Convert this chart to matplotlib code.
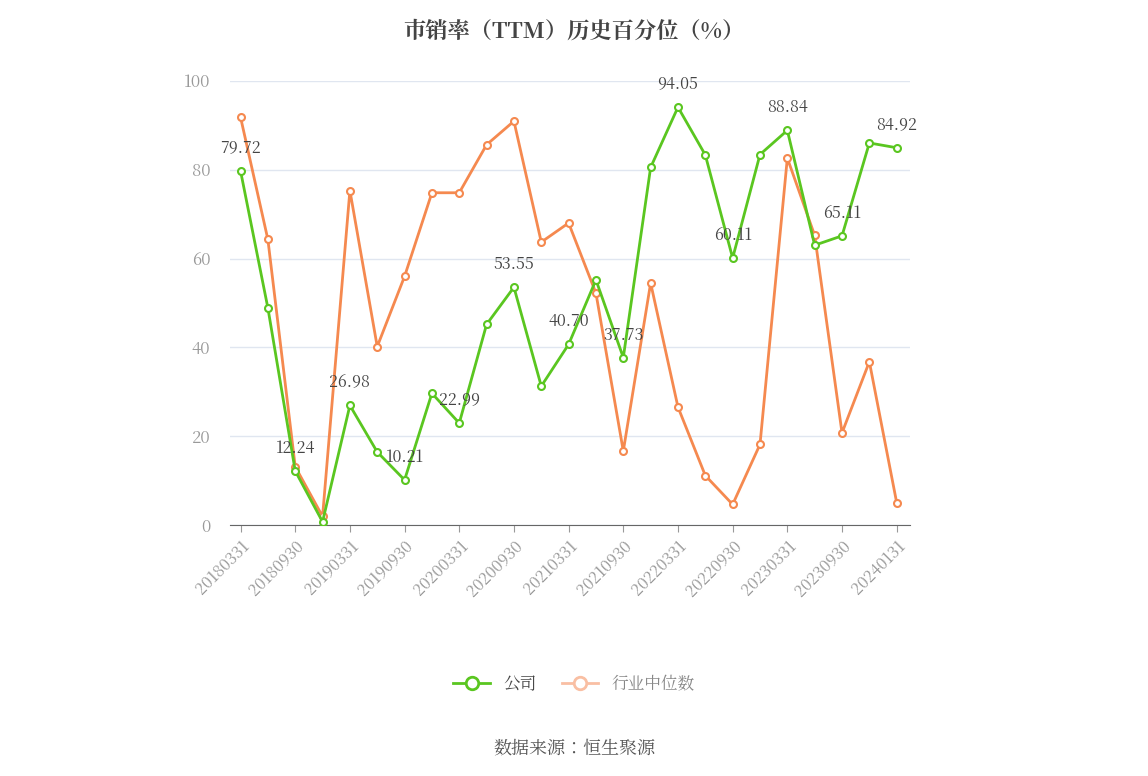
import matplotlib.pyplot as plt
from matplotlib import font_manager
from matplotlib.lines import Line2D

# pick up any installed CJK font by file, since name lookup can fail
cjk_files = [f for f in font_manager.findSystemFonts() if 'CJK' in f or 'cjk' in f.lower()]
cjk_name = 'Noto Sans CJK SC'
for f in sorted(cjk_files):
    try:
        font_manager.fontManager.addfont(f)
        cjk_name = font_manager.FontProperties(fname=f).get_name()
        if 'SC' in cjk_name:
            break
    except Exception:
        pass
plt.rcParams['font.family'] = [cjk_name, 'DejaVu Sans']

dates = ['20180331', '20180630', '20180930', '20181231',
         '20190331', '20190630', '20190930', '20191231',
         '20200331', '20200630', '20200930', '20201231',
         '20210331', '20210630', '20210930', '20211231',
         '20220331', '20220630', '20220930', '20221231',
         '20230331', '20230630', '20230930', '20231231', '20240131']
company = [79.72, 48.9, 12.24, 0.8, 26.98, 16.5, 10.21, 29.7, 22.99, 45.2, 53.55, 31.3,
           40.70, 55.2, 37.73, 80.5, 94.05, 83.3, 60.11, 83.4, 88.84, 63.0, 65.11, 86.0, 84.92]
industry = [91.8, 64.3, 13.2, 2.0, 75.3, 40.2, 56.0, 74.8, 74.8, 85.6, 90.9, 63.7,
            68.0, 52.2, 16.7, 54.5, 26.6, 11.2, 4.7, 18.2, 82.6, 65.2, 20.8, 36.8, 5.1]

green = '#5ac620'
orange = '#f5894f'

fig = plt.figure(figsize=(11.48, 7.76), dpi=100)
ax = fig.add_axes([0.2, 0.323, 0.593, 0.573])
x = list(range(len(dates)))

ax.plot(x, industry, color=orange, lw=2, marker='o', ms=5, mfc='white', mec=orange, mew=1.5, zorder=3)
ax.plot(x, company, color=green, lw=2, marker='o', ms=5, mfc='white', mec=green, mew=1.5, zorder=4)

for i in range(0, len(x), 2):
    ax.annotate(f'{company[i]:.2f}', (x[i], company[i]), xytext=(0, 10), textcoords='offset points',
                ha='center', va='bottom', fontsize=11.5, color='#444444', zorder=5)

ax.set_xlim(-0.4, len(x) - 0.5)
ax.set_ylim(0, 100)
ax.set_yticks([0, 20, 40, 60, 80, 100])
ax.set_xticks(x[::2])
ax.set_xticklabels(dates[::2], rotation=45, ha='right', rotation_mode='anchor')
ax.tick_params(axis='y', length=0, labelsize=12, colors='#999999', pad=14)
ax.tick_params(axis='x', labelsize=11.5, colors='#999999', length=5)
ax.grid(axis='y', color='#e0e6f0', lw=1)
ax.set_axisbelow(True)
for s in ['top', 'right', 'left']:
    ax.spines[s].set_visible(False)
ax.spines['bottom'].set_color('#666666')

fig.text(0.5, 0.975, '市销率（TTM）历史百分位（%）', ha='center', va='top', fontsize=16,
         fontweight='bold', color='#444444')

handles = [Line2D([], [], color=green, lw=2, marker='o', ms=9, mfc='white', mew=2),
           Line2D([], [], color='#f9bfa3', lw=2, marker='o', ms=9, mfc='white', mew=2)]
fig.legend(handles, ['公司', '行业中位数'], loc='center', bbox_to_anchor=(0.5, 0.118), ncol=2,
           frameon=False, fontsize=12, labelcolor=['#444444', '#888888'], handlelength=2.2,
           columnspacing=1.5)

fig.text(0.5, 0.035, '数据来源：恒生聚源', ha='center', va='center', fontsize=13, color='#555555')

fig.savefig('out.png', dpi=100)
